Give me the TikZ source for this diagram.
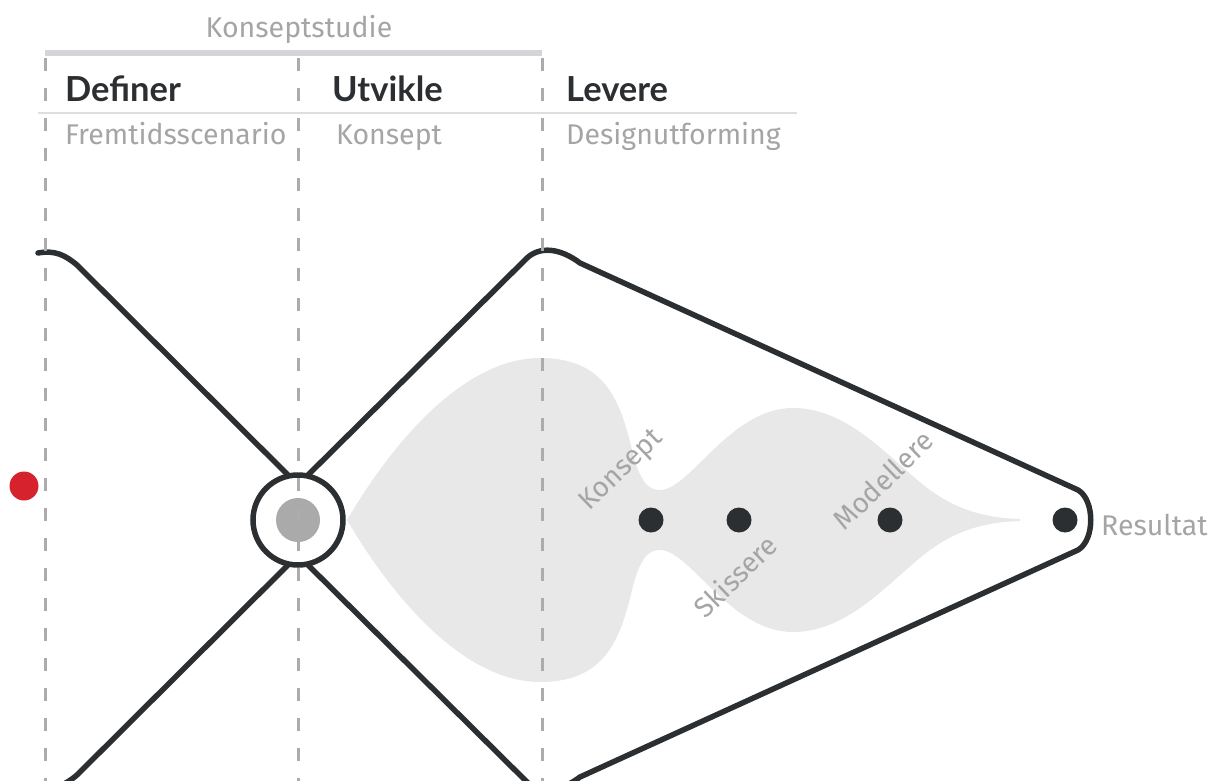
\documentclass[tikz,border=0pt]{standalone}
\usepackage{fontspec}
\setmainfont{Fira Sans}
\newfontfamily\headfont{Lato}
\definecolor{ink}{RGB}{44,47,50}
\definecolor{txtgray}{RGB}{165,165,165}
\definecolor{dashgray}{RGB}{172,172,172}
\definecolor{bargray}{RGB}{212,213,216}
\definecolor{rulegray}{RGB}{222,222,222}
\definecolor{blobgray}{RGB}{232,232,232}
\definecolor{dotgray}{RGB}{170,170,170}
\definecolor{reddot}{RGB}{214,34,44}
\begin{document}
\begin{tikzpicture}[x=1pt,y=-1pt,
  head/.style={font=\headfont\bfseries\fontsize{34.5}{38}\selectfont, text=ink, anchor=base west, inner sep=0pt},
  sub/.style={font=\fontsize{28.5}{32}\selectfont, text=txtgray, anchor=base west, inner sep=0pt},
  steplabel/.style={font=\fontsize{28}{32}\selectfont, text=txtgray, inner sep=0pt, rotate=44},
  inkline/.style={draw=ink, line width=5.5pt, line cap=round, line join=round},
  phaseline/.style={draw=dashgray, line width=3pt, dash pattern=on 13pt off 17pt},
  blackdot/.style={circle, fill=ink, minimum size=25pt, inner sep=0pt}]
\useasboundingbox (0,0) rectangle (1210,781);
\clip (0,0) rectangle (1210,781);

% header
\node[font=\fontsize{28.5}{32}\selectfont, text=txtgray, anchor=base, inner sep=0pt] (studie) at (299,38) {Konseptstudie};
\draw[bargray, line width=6pt] (45,53) -- (542,53);
\draw[rulegray, line width=1.5pt] (38,113) -- (797,113);
\node[head] (definer) at (65,102) {Definer};
\node[head] (utvikle) at (332,102) {Utvikle};
\node[head] (levere) at (566,102) {Levere};
\node[sub] (fremtid) at (65,145) {Fremtidsscenario};
\node[sub] (konsept1) at (336,145) {Konsept};
\node[sub] (design) at (566,145) {Designutforming};

% blob
\fill[blobgray] (347,520)
  .. controls (400,430) and (470,358) .. (540,358)
  .. controls (605,358) and (620,400) .. (632,450)
  .. controls (640,482) and (648,490) .. (660,490)
  .. controls (690,490) and (730,408) .. (793,408)
  .. controls (850,408) and (890,460) .. (930,490)
  .. controls (960,512) and (990,518) .. (1020,519)
  -- (1020,521)
  .. controls (990,522) and (960,528) .. (930,550)
  .. controls (890,580) and (850,632) .. (793,632)
  .. controls (730,632) and (690,550) .. (660,550)
  .. controls (648,550) and (640,558) .. (632,590)
  .. controls (620,640) and (605,682) .. (540,682)
  .. controls (470,682) and (400,610) .. (347,520) -- cycle;

% X lines and diamond
\coordinate (tl) at (289,476);
\coordinate (tr) at (307,476);
\coordinate (bl) at (289,564);
\coordinate (br) at (307,564);
\draw[inkline] (38,253) .. controls (55,250) and (65,255) .. (77,265) -- (tl);
\draw[inkline] (38,787) .. controls (55,790) and (65,785) .. (77,775) -- (bl);
\draw[inkline] (tr) -- (527,258) .. controls (540,246) and (560,248) .. (580,263)
  -- (1078,490) .. controls (1095,500) and (1095,540) .. (1078,550)
  -- (580,777) .. controls (560,792) and (540,794) .. (527,782) -- (br);

% centre circle
\node[circle, draw=ink, line width=5.5pt, fill=white, minimum size=90pt, inner sep=0pt] (hub) at (298,520) {};
\node[circle, fill=dotgray, minimum size=44pt, inner sep=0pt] (hubdot) at (hub.center) {};

% dots
\node[blackdot] (d1) at (651,520) {};
\node[blackdot] (d2) at (739,520) {};
\node[blackdot] (d3) at (890,520) {};
\node[blackdot] (d4) at (1065,520) {};
\node[circle, fill=reddot, minimum size=29pt, inner sep=0pt] (red) at (24,486) {};

% labels
\node[steplabel] (lk) at (622,471) {Konsept};
\node[steplabel] (ls) at (735,576) {Skissere};
\node[steplabel] (lm) at (883,480) {Modellere};
\node[sub] (res) at (1101,535) {Resultat};

% phase dashed lines
\draw[phaseline] (45,58) -- (45,790);
\draw[phaseline] (298,58) -- (298,790);
\draw[phaseline] (542,58) -- (542,790);
\end{tikzpicture}
\end{document}
